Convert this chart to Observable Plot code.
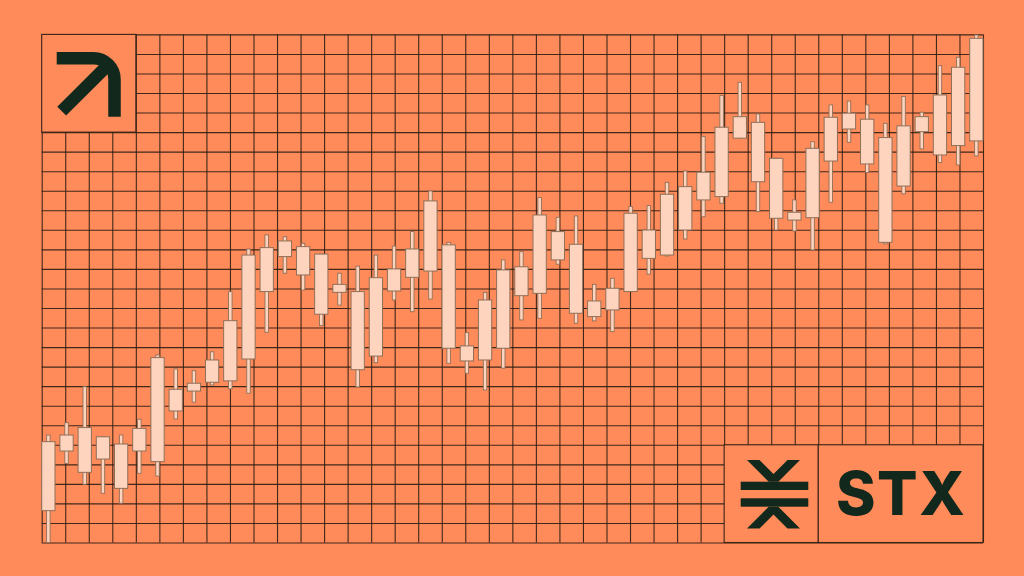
<!DOCTYPE html>
<html>
<head>
<meta charset="utf-8">
<script src="https://cdn.jsdelivr.net/npm/d3@7"></script>
<script src="https://cdn.jsdelivr.net/npm/@observablehq/plot@0.6"></script>
<style>
  html, body { margin: 0; padding: 0; background: #FF8B5A; }
  #wrap { position: relative; width: 1024px; height: 576px; background: #FF8B5A; overflow: hidden; }
  #wrap > svg, #wrap > figure { position: absolute; left: 0; top: 0; margin: 0; }
</style>
</head>
<body>
<div id="wrap"></div>
<script>
// ---- data (price units; one grid row = 10 units) ----
const open  = [16.3,46.8,58.8,42.7,50.4,46.8,41.4,67.3,77.5,82.0,82.7,93.9,128.4,146.3,151.4,147.6,132.1,128.4,95.4,128.7,135.7,138.9,152.3,100.6,93.4,99.4,126.3,127.5,144.6,152.6,123.6,119.0,128.4,145.4,147.1,159.9,175.3,177.0,206.9,215.0,196.6,169.0,166.2,195.2,211.6,216.6,207.2,182.4,210.2,229.0,203.1,205.5];
const close = [51.6,55.0,35.9,54.1,27.7,58.4,94.6,78.4,81.5,93.4,113.5,147.1,150.9,154.3,136.9,116.8,128.0,88.4,135.5,140.0,150.2,174.8,99.4,92.9,124.1,139.5,141.1,167.6,159.1,117.3,115.6,130.1,168.5,159.9,178.2,182.1,189.5,212.5,217.9,184.6,165.9,165.0,201.7,217.6,219.7,193.7,153.6,213.2,217.9,198.3,243.2,258.0];
const high  = [55.0,61.3,79.7,54.1,55.0,63.1,96.0,88.8,87.9,97.6,128.4,150.2,157.4,156.5,153.1,147.6,137.8,141.4,147.1,151.7,159.1,179.9,153.6,107.4,128.0,144.6,148.8,176.5,166.4,167.1,132.1,135.2,171.9,172.4,184.3,190.1,207.7,228.7,235.5,219.3,196.6,175.3,205.1,223.9,225.9,223.9,214.5,228.2,220.2,244.0,248.3,259.7];
const low   = [0.0,40.5,29.8,25.2,20.1,35.4,34.0,63.2,71.8,80.6,78.6,76.4,107.6,137.8,129.2,111.0,121.5,79.6,92.0,124.1,118.1,124.6,91.7,86.6,78.0,89.2,113.9,114.7,142.4,112.2,113.4,107.9,128.4,137.3,146.6,155.3,166.7,173.6,206.9,169.3,159.9,159.4,149.7,174.1,204.8,189.3,152.8,178.4,201.4,194.4,193.2,197.8];

// grid: 40 columns x 26 rows
const gridCols = d3.range(0, 41);
const gridRows = d3.range(0, 27);
// boxes (grid units) that interrupt the grid
const boxes = [
  {x1: 0, x2: 4, y1: 21, y2: 26},
  {x1: 29, x2: 33, y1: 0, y2: 5},
  {x1: 33, x2: 40, y1: 0, y2: 5}
];
const label = "STX";

const candles = open.map((o, i) => ({
  i, open: o, close: close[i], high: high[i], low: low[i]
}));

const BG = "#FF8B5A";
const GRID = "#2a1e14";
const DARK = "#13281c";
const PEACH = "#FFD4BF";
const EDGE = "#8f6f57";

const frame = {
  width: 1024, height: 576,
  marginLeft: 41.7, marginRight: 41, marginTop: 34.4, marginBottom: 33.5,
  style: {background: "transparent", overflow: "visible"}
};

const wrap = document.getElementById("wrap");

// background grid layer
const gridPlot = Plot.plot({
  ...frame,
  x: {domain: [0, 40], axis: null},
  y: {domain: [0, 26], axis: null},
  marks: [
    Plot.ruleX(gridCols, {x: d => d, stroke: GRID, strokeWidth: 1.1, strokeOpacity: 0.9}),
    Plot.ruleY(gridRows, {y: d => d, stroke: GRID, strokeWidth: 1.1, strokeOpacity: 0.9}),
    Plot.rect(boxes, {x1: "x1", x2: "x2", y1: "y1", y2: "y2", fill: BG, stroke: GRID, strokeWidth: 1.1, strokeOpacity: 0.9}),
    Plot.text([boxes[2]], {
      x: d => (d.x1 + d.x2) / 2, y: d => (d.y1 + d.y2) / 2,
      text: () => label, fill: DARK, fontSize: 60, fontWeight: 800,
      fontFamily: "Inter, 'DejaVu Sans', sans-serif", textAnchor: "middle", lineAnchor: "middle", dy: 2
    })
  ]
});
gridPlot.querySelectorAll("text").forEach(t => t.setAttribute("letter-spacing", "1.5"));
wrap.appendChild(gridPlot);

// candle layer: each candle occupies slot [i, i+1]; the body is inset inside its slot
const candlePlot = Plot.plot({
  ...frame,
  x: {domain: [0.1346, 51.8654], axis: null},
  y: {domain: [0, 260], axis: null},
  marks: [
    Plot.rect(candles, {x1: d => d.i, x2: d => d.i + 1, y1: "low", y2: "high",
      fill: PEACH, stroke: EDGE, strokeWidth: 0.9, insetLeft: 7.35, insetRight: 7.35}),
    Plot.rect(candles, {x1: d => d.i, x2: d => d.i + 1, y1: "open", y2: "close",
      fill: PEACH, stroke: EDGE, strokeWidth: 1, insetLeft: 2.45, insetRight: 2.45})
  ]
});
wrap.appendChild(candlePlot);

// logos (decorative)
const ns = "http://www.w3.org/2000/svg";
const logo = document.createElementNS(ns, "svg");
logo.setAttribute("width", 1024);
logo.setAttribute("height", 576);
logo.setAttribute("viewBox", "0 0 1024 576");
logo.innerHTML = `
  <g fill="none" stroke="${DARK}" stroke-width="12.5" stroke-linecap="butt" stroke-linejoin="miter">
    <path d="M56.7,58.3 H93.5 A21,21 0 0 1 114.5,79.3 V116.7"/>
    <path d="M61.7,111.2 L110.5,62.5"/>
  </g>
  <g fill="${DARK}">
    <polygon points="747,460 759.5,460 773.5,474 787.5,460 800,460 778.3,481.7 768.7,481.7"/>
    <rect x="740.7" y="481.7" width="67.6" height="8.3"/>
    <rect x="740.7" y="498.3" width="67.6" height="8.4"/>
    <polygon points="768.7,506.7 778.3,506.7 800,528.6 787.5,528.6 773.5,514.6 759.5,528.6 747,528.6"/>
  </g>`;
wrap.appendChild(logo);
</script>
</body>
</html>
